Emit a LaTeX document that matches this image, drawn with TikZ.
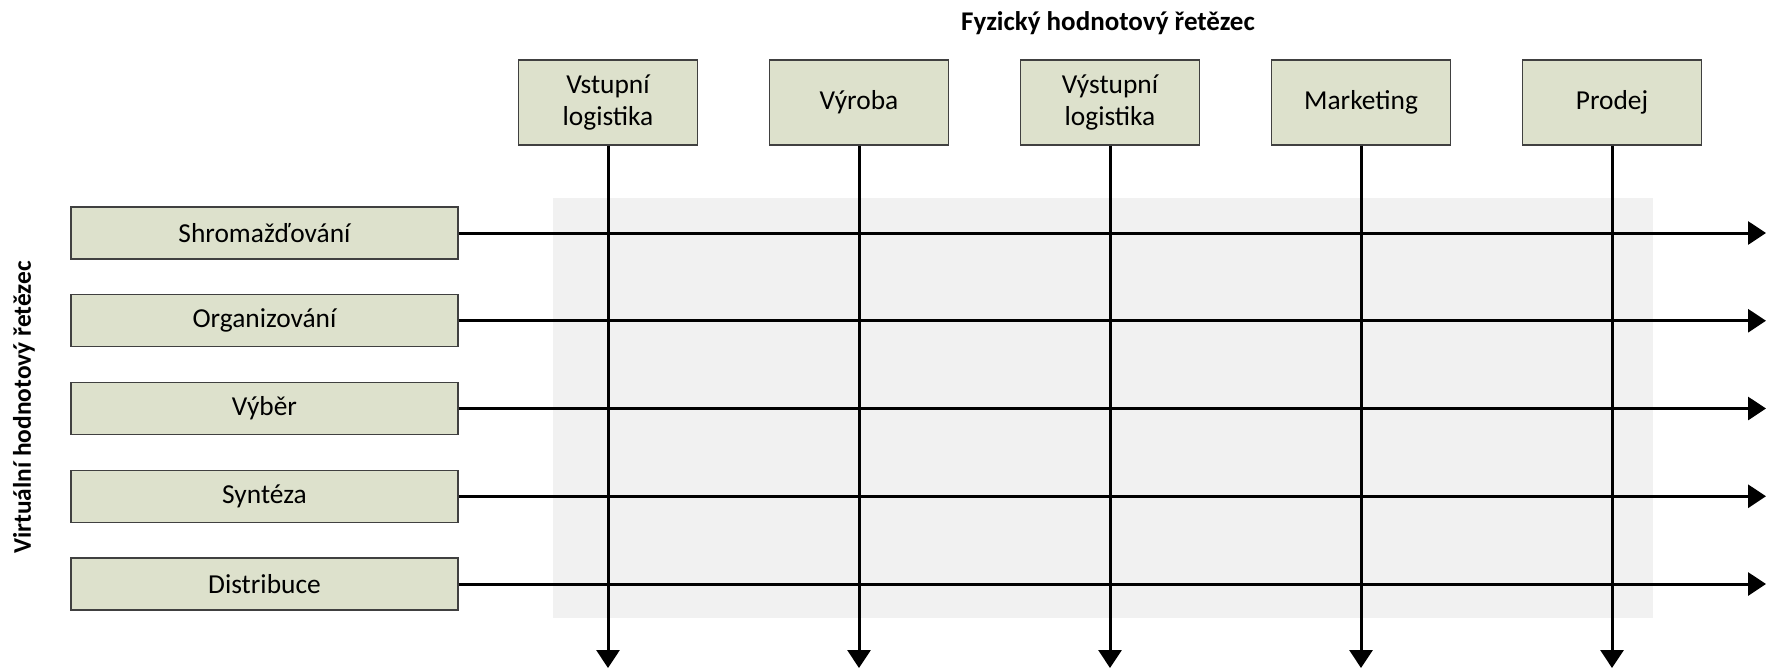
\documentclass[tikz,border=0pt]{standalone}
\usepackage{fontspec}
\setmainfont{Carlito}
\usetikzlibrary{arrows.meta}
\definecolor{boxfill}{RGB}{221,225,204}
\definecolor{boxline}{RGB}{64,64,64}
\definecolor{bgshade}{RGB}{241,241,241}
\begin{document}
\begin{tikzpicture}[x=0.5pt,y=-0.5pt,
  topbox/.style={draw=boxline,line width=0.6pt,fill=boxfill,minimum width=89.5pt,minimum height=42.5pt,inner sep=0pt,align=center,font=\fontsize{13.7}{16.3}\selectfont},
  leftbox/.style={draw=boxline,line width=0.6pt,fill=boxfill,minimum width=193.5pt,minimum height=26pt,inner sep=0pt,font=\fontsize{13.7}{16.3}\selectfont},
  conn/.style={line width=1.5pt,-{Triangle[length=9pt,width=11.5pt]}},
  title/.style={font=\fontsize{13.5}{15}\selectfont\bfseries}]
\useasboundingbox (0,0) rectangle (1766,669);
\fill[bgshade] (553,198) rectangle (1653,618);
\coordinate (R) at (1766,0);
\coordinate (B) at (0,668);
\node[title] (ft) at (1108,23) {Fyzický hodnotový řetězec};
\node[title,font=\fontsize{12.7}{15}\selectfont\bfseries,rotate=90] (vt) at (24,407.5) {Virtuální hodnotový řetězec};
\node[topbox] (t1) at (608,102.5) {Vstupní\\logistika};
\node[topbox] (t2) at (859,102.5) {Výroba};
\node[topbox] (t3) at (1110,102.5) {Výstupní\\logistika};
\node[topbox] (t4) at (1361,102.5) {Marketing};
\node[topbox] (t5) at (1612,102.5) {Prodej};
\node[leftbox] (l1) at (264.5,233) {Shromažďování};
\node[leftbox] (l2) at (264.5,320.75) {Organizování};
\node[leftbox] (l3) at (264.5,408.5) {Výběr};
\node[leftbox] (l4) at (264.5,496.25) {Syntéza};
\node[leftbox] (l5) at (264.5,584) {Distribuce};
\foreach \i in {1,...,5}{
  \draw[conn] (l\i) -- (l\i -| R);
  \draw[conn] (t\i) -- (t\i |- B);
}
\end{tikzpicture}
\end{document}
